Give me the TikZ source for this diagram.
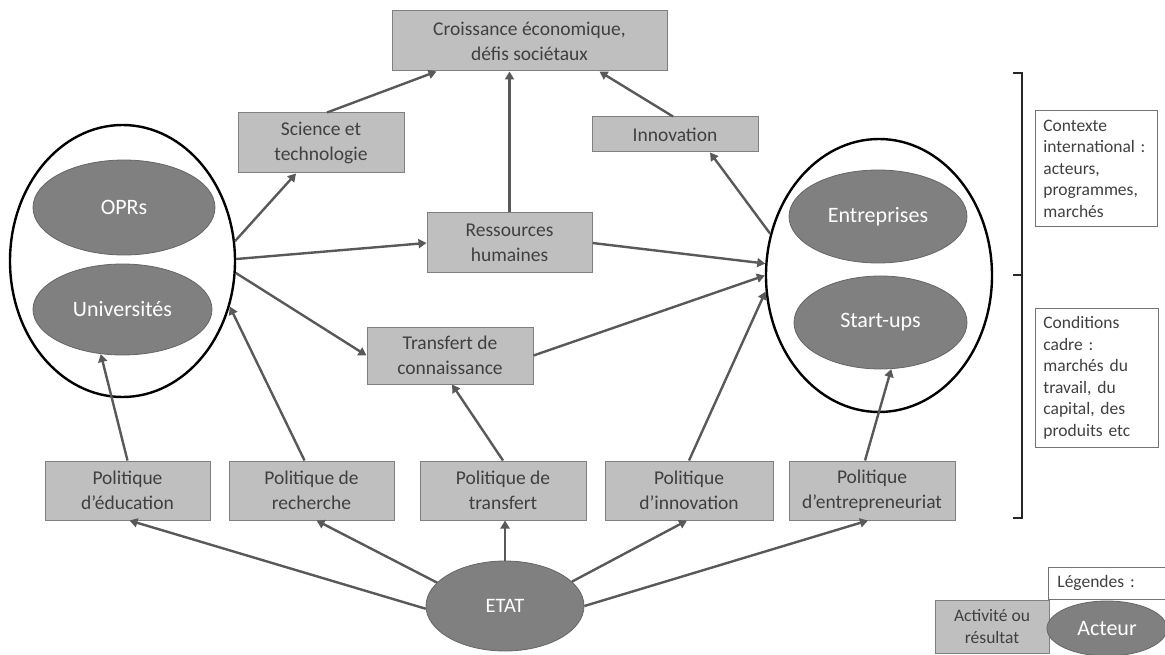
\documentclass[tikz,border=0pt]{standalone}
\usepackage{fontspec}
\setmainfont{Carlito}
\usetikzlibrary{shapes.geometric,arrows.meta}
\frenchspacing

\begin{document}
\begin{tikzpicture}[x=1pt,y=-1pt,
    boite/.style={draw=black!50,fill=black!25,line width=1pt,text=black!75,align=center,
        inner sep=0pt,font=\fontsize{19.5}{25}\selectfont},
    acteur/.style={ellipse,draw=black!60,fill=black!50,line width=0.8pt,text=white,
        inner sep=0pt,font=\fontsize{22}{26}\selectfont},
    groupe/.style={ellipse,draw=black,line width=2.4pt,inner sep=0pt},
    cadre/.style={draw=black!55,line width=0.8pt,fill=white,text=black!75,align=left,
        inner xsep=8pt,inner ysep=0pt,font=\fontsize{17.5}{21.5}\selectfont},
    fleche/.style={draw=black!65,line width=2.4pt,-{Triangle[length=8pt,width=9pt]}}]
    \useasboundingbox [fill=white] (0,0) rectangle (1165,655);

    \node [groupe,minimum width=225,minimum height=272] (gauche) at (122.5,261) {};
    \node [acteur,minimum width=182,minimum height=95] (opr) at (124,207.5) {OPRs};
    \node [acteur,minimum width=179,minimum height=91] (univ) at (122.5,309.5) {Universités};
    \node [groupe,minimum width=226,minimum height=273] (droite) at (879,275.5) {};
    \node [acteur,minimum width=178,minimum height=93] (entr) at (878,216.5) {Entreprises};
    \node [acteur,minimum width=173,minimum height=93] (startup) at (880.5,322.5) {Start-ups};

    \node [boite,minimum width=275,minimum height=60] (croiss) at (529.5,41) {Croissance économique,\\défis sociétaux};
    \node [boite,minimum width=166,minimum height=60] (science) at (321,143) {Science et\\technologie};
    \node [boite,minimum width=166,minimum height=35] (innov) at (675,134.5) {Innovation};
    \node [boite,minimum width=165,minimum height=60] (ress) at (509.5,243) {Ressources\\humaines};
    \node [boite,minimum width=166,minimum height=57] (transf) at (450,355.5) {Transfert de\\connaissance};

    \node [boite,minimum width=165,minimum height=59] (poleduc) at (127.5,490.5) {Politique\\d’éducation};
    \node [boite,minimum width=165,minimum height=59] (polrech) at (311.5,490.5) {Politique de\\recherche};
    \node [boite,minimum width=166,minimum height=59] (poltransf) at (503,490.5) {Politique de\\transfert};
    \node [boite,minimum width=168,minimum height=59] (polinnov) at (689,490.5) {Politique\\d’innovation};
    \node [boite,minimum width=166,minimum height=59] (polentr) at (872,490.5) {Politique\\d’entrepreneuriat};

    \node [acteur,minimum width=158,minimum height=90,font=\fontsize{20.5}{24}\selectfont] (etat) at (505,606) {ETAT};

    \node [cadre,text width=106pt,minimum height=116,anchor=north west] (contexte) at (1035,110)
        {Contexte\\international :\\acteurs,\\programmes,\\marchés};
    \node [cadre,text width=107pt,minimum height=139,anchor=north west] (conditions) at (1035,308)
        {Conditions\\cadre :\\marchés du\\travail, du\\capital, des\\produits etc};
    \draw [line width=2pt,black!85] (1013,73) -- (1022,73) -- (1022,518) -- (1013,518);
    \draw [line width=2pt,black!85] (1013,275) -- (1022,275);

    \node [cadre,text width=114pt,minimum height=32,anchor=west,inner xsep=9pt] (legende) at (1048,583) {Légendes :};
    \node [boite,minimum width=114,minimum height=53,font=\fontsize{17.5}{22}\selectfont] (activite) at (992,626.5) {Activité ou\\résultat};
    \node [acteur,minimum width=120,minimum height=55] (acteur) at (1107,628.5) {Acteur};

    \draw [fleche] ([xshift=6pt]science.north) -- ([xshift=-93pt]croiss.south);
    \draw [fleche] (ress.north) -- (ress.north |- croiss.south);
    \draw [fleche] ([xshift=-2pt]innov.north) -- ([xshift=70pt]croiss.south);
    \draw [fleche] (droite.159) -- ([xshift=35pt]innov.south);
    \draw [fleche] (gauche.10) -- ([xshift=-25pt]science.south);
    \draw [fleche] (gauche.1.5) -- (ress.west);
    \draw [fleche] (gauche.-6) -- (transf.west);
    \draw [fleche] (ress.east) -- (droite.174);
    \draw [fleche] (transf.east) -- (droite.west);
    \draw [fleche] (polinnov.north) -- (droite.188);
    \draw [fleche] ([xshift=-7pt]polentr.north) -- (startup.283);
    \draw [fleche] (poleduc.north) -- (univ.244);
    \draw [fleche] ([xshift=-7pt]polrech.north) -- (gauche.337);
    \draw [fleche] (poltransf.north) -- ([xshift=2pt]transf.south);
    \draw [fleche] (etat.182) -- ([xshift=2pt]poleduc.south);
    \draw [fleche] (etat.161) -- ([xshift=5pt]polrech.south);
    \draw [fleche] (etat.north) -- (etat.north |- poltransf.south);
    \draw [fleche] (etat.20) -- ([xshift=-2pt]polinnov.south);
    \draw [fleche] (etat.east) -- ([xshift=-4pt]polentr.south);
\end{tikzpicture}
\end{document}
